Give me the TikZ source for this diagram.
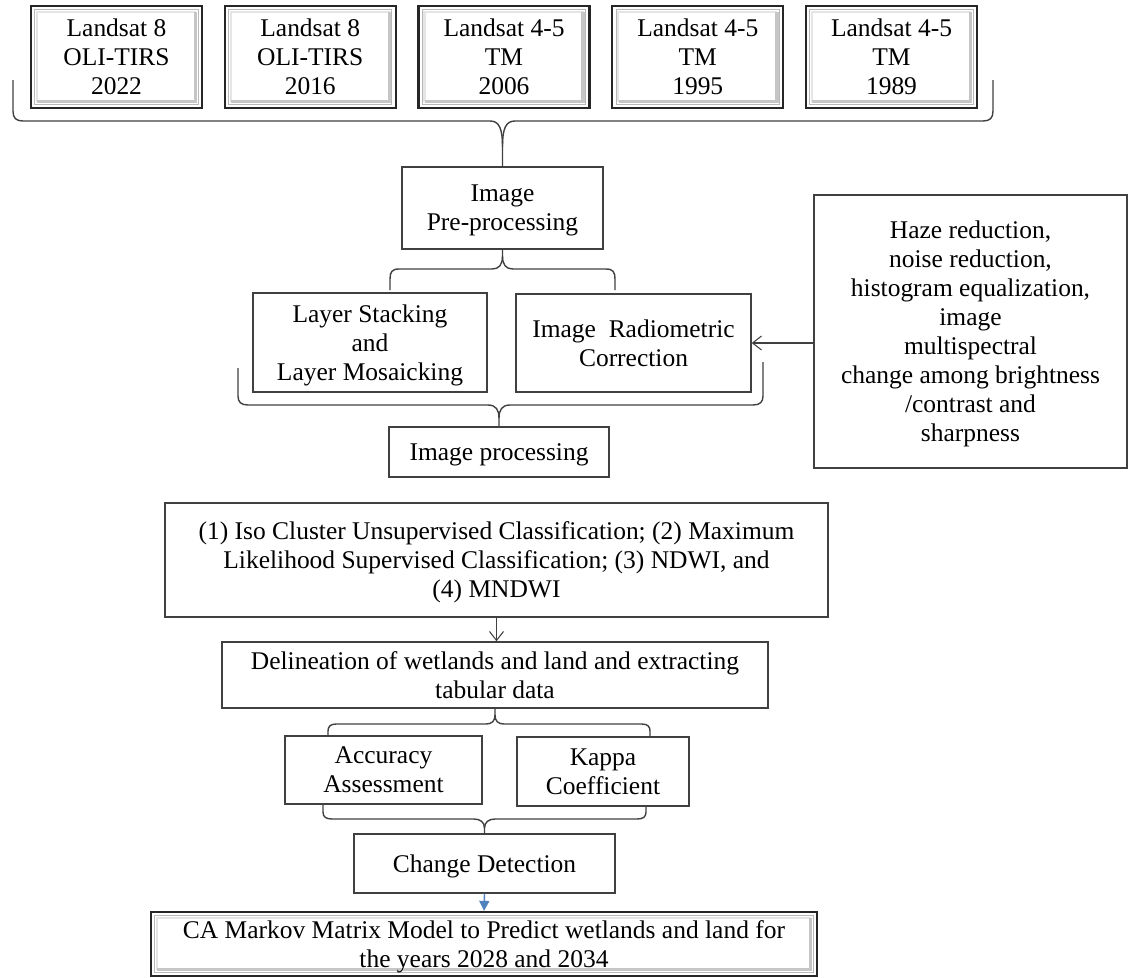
\documentclass[tikz,border=0pt]{standalone}
\usepackage{fontspec}
\setmainfont{Liberation Serif}
\usepackage{xcolor}
\usetikzlibrary{arrows.meta}

\newcommand{\flowfont}{\fontsize{14.5}{16.5}\selectfont}
\definecolor{edge}{HTML}{404040}
\definecolor{wordblue}{HTML}{4F81BD}

\tikzset{
  box/.style={draw=edge, line width=0.8pt, align=center, inner sep=0pt, text depth=0pt, font=\flowfont},
  bevel/.style={box, draw=black!85, line width=1.3pt,
    path picture={
      \draw[gray!55, line width=0.5pt] ([shift={(2.2pt,2.2pt)}]path picture bounding box.south west) rectangle ([shift={(-2.2pt,-2.2pt)}]path picture bounding box.north east);
      \draw[gray!20, line width=1.2pt] ([shift={(3.4pt,3.4pt)}]path picture bounding box.south west) -- ([shift={(3.4pt,-3.4pt)}]path picture bounding box.north west) -- ([shift={(-3.4pt,-3.4pt)}]path picture bounding box.north east);
      \draw[gray!45, line width=2pt] ([shift={(3.6pt,3.6pt)}]path picture bounding box.south west) -- ([shift={(-3.6pt,3.6pt)}]path picture bounding box.south east) -- ([shift={(-3.6pt,-3.6pt)}]path picture bounding box.north east);
    }},
  brace/.style={draw=edge, line width=0.8pt},
  barb/.style={-{Straight Barb[length=1.8mm,width=2.8mm]}, draw=edge, line width=0.6pt},
}

\begin{document}
\begin{tikzpicture}[x=0.02cm, y=-0.02cm]
\useasboundingbox (0,0) rectangle (1129,977);

% satellite images
\foreach \i/\sat/\sen/\yr in {1/8/OLI-TIRS/2022, 2/8/OLI-TIRS/2016, 3/4-5/TM/2006, 4/4-5/TM/1995, 5/4-5/TM/1989}
  \node[bevel, minimum width=3.42cm, minimum height=2.04cm] (src\i) at ({116.5+193.75*(\i-1)},57) {Landsat \sat\\\sen\\\yr};

% pre-processing
\node[box, minimum width=4.02cm, minimum height=1.64cm] (pre) at (502.5,208) {Image\\Pre-processing};
\node[box, minimum width=4.68cm, minimum height=1.98cm] (stack) at (370,342.5) {Layer Stacking\\and\\Layer Mosaicking};
\node[box, minimum width=4.7cm, minimum height=1.96cm] (radio) at (633.5,343) {Image\ \ Radiometric\\Correction};
\node[box, minimum width=6.26cm, minimum height=5.46cm] (haze) at (970.5,331.5) {Haze reduction,\\noise reduction,\\histogram equalization,\\image\\multispectral\\change among brightness\\/contrast and\\sharpness};
\node[box, minimum width=4.4cm, minimum height=1.0cm] (proc) at (499,452) {Image processing};

% classification
\node[box, minimum width=13.26cm, minimum height=2.28cm] (cls) at (496.5,560) {(1) Iso Cluster Unsupervised Classification; (2) Maximum\\Likelihood Supervised Classification; (3) NDWI, and\\(4) MNDWI};
\node[box, minimum width=10.92cm, minimum height=1.32cm] (delin) at (495,675) {Delineation of wetlands and land and extracting\\tabular data};
\node[box, minimum width=3.94cm, minimum height=1.36cm] (acc) at (383.5,770) {Accuracy\\Assessment};
\node[box, minimum width=3.44cm, minimum height=1.38cm] (kappa) at (603,771.5) {Kappa\\Coefficient};
\node[box, minimum width=5.22cm, minimum height=1.18cm] (change) at (484.5,863.5) {Change Detection};
\node[bevel, minimum width=13.32cm, minimum height=1.28cm] (markov) at (484,944) {CA Markov Matrix Model to Predict wetlands and land for\\the years 2028 and 2034};

% braces
\draw[brace] (13,80) -- (13,111) .. controls (13,118) and (16,121) .. (23,121) -- (490,121) .. controls (499,121) and (502.5,128) .. (502.5,147) -- (pre.north);
\draw[brace] (993,80) -- (993,111) .. controls (993,118) and (990,121) .. (983,121) -- (515,121) .. controls (506,121) and (502.5,128) .. (502.5,147);

\draw[brace] (pre.south) -- (502.5,256) .. controls (502.5,265) and (499,269) .. (492,269) -- (399,269) .. controls (392,269) and (390,272) .. (390,279) -- (390,290);
\draw[brace] (502.5,256) .. controls (502.5,265) and (506,269) .. (513,269) -- (606,269) .. controls (613,269) and (615,272) .. (615,279) -- (615,290);

\draw[brace] (238,368) -- (238,396) .. controls (238,402) and (241,405) .. (248,405) -- (488,405) .. controls (496,405) and (499,410) .. (499,418) -- (proc.north);
\draw[brace] (763,362) -- (763,396) .. controls (763,402) and (760,405) .. (753,405) -- (510,405) .. controls (502,405) and (499,410) .. (499,418);

\draw[brace] (delin.south) -- (495,715) .. controls (495,721) and (492,724) .. (486,724) -- (336,724) .. controls (330,724) and (328,727) .. (328,731) -- (328,736);
\draw[brace] (495,715) .. controls (495,721) and (498,724) .. (504,724) -- (642,724) .. controls (648,724) and (650,727) .. (650,731) -- (650,736);

\draw[brace] (323,805) -- (323,812) .. controls (323,817) and (326,819) .. (332,819) -- (474,819) .. controls (480,819) and (484.5,822) .. (484.5,828) -- (change.north);
\draw[brace] (646,805) -- (646,812) .. controls (646,817) and (643,819) .. (637,819) -- (495,819) .. controls (489,819) and (484.5,822) .. (484.5,828);

% arrows
\draw[barb] (haze.west |- radio.east) -- (radio.east);
\draw[barb] (cls.south) -- (cls.south |- delin.north);
\draw[-{Triangle[length=2mm,width=2mm]}, wordblue, line width=0.8pt] (change.south) -- (markov.north);
\end{tikzpicture}
\end{document}
